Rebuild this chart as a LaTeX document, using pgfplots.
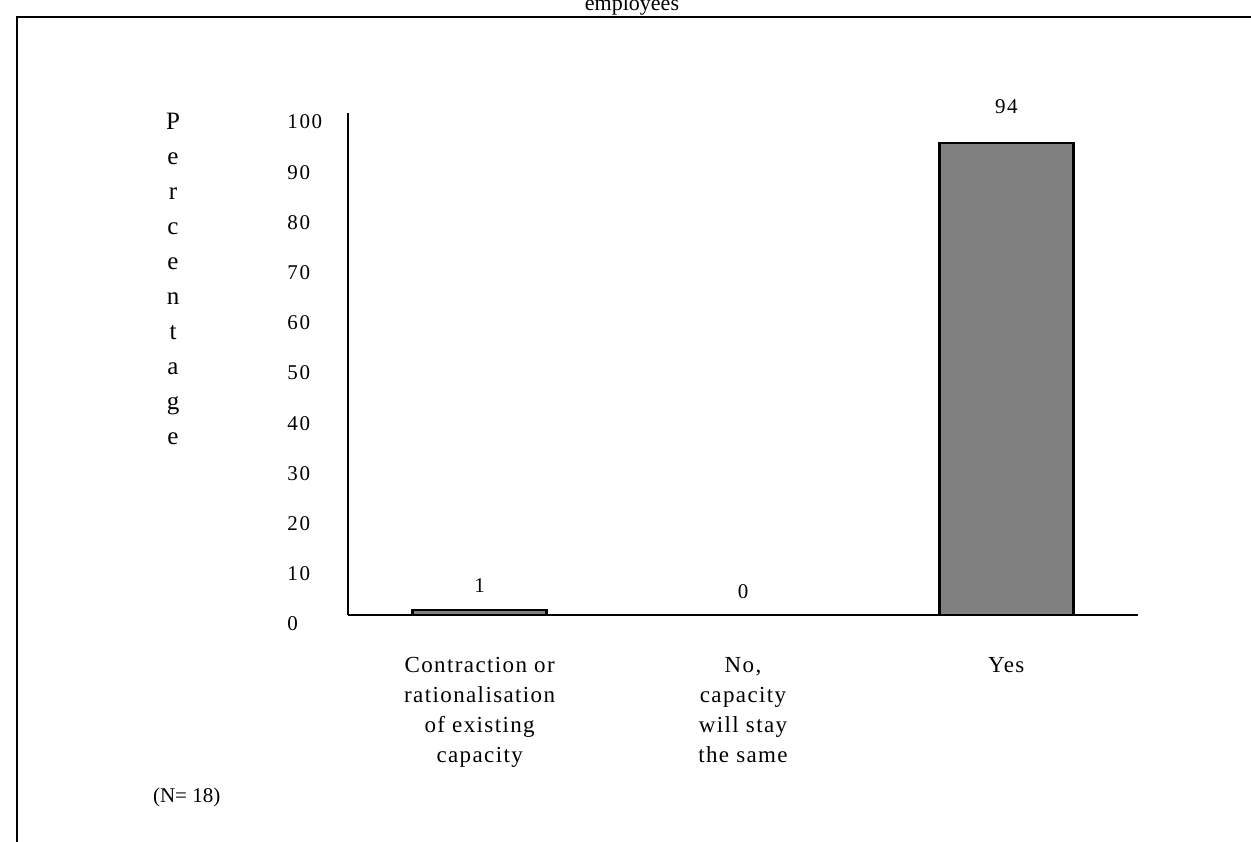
\documentclass[border=0pt]{standalone}
\usepackage{fontspec}
\setmainfont{Liberation Serif}
\newfontfamily\spaced[LetterSpace=8]{Liberation Serif}
\newfontfamily\catfont[LetterSpace=6]{Liberation Serif}
\usepackage{pgfplots}
\pgfplotsset{compat=1.18}
\usepackage{pgfplotstable}

% share of firms by planned change in capacity
% off = vertical offset (pt) of the value label above the bar top
\pgfplotstableread{
x y off lab
0 1 12 1
1 0 11.5 0
2 94 18 94
}\capacitydata

\begin{document}
\begin{tikzpicture}[x=1pt,y=1pt]
\path[use as bounding box] (0,0) rectangle (625.5,420.5);
% page frame
\draw[line width=1.2pt] (8.5,-5) -- (8.5,412) -- (640,412);
\node[font=\fontsize{11}{13}\selectfont, anchor=base] at (316,415) {employees};
\begin{axis}[
  at={(174pt,113pt)}, anchor=south west,
  scale only axis, width=395pt, height=251pt,
  xmin=-0.5, xmax=2.5, ymin=0, ymax=100,
  axis x line=bottom, axis y line=left,
  axis line style={-, line width=1.2pt},
  major tick length=0pt,
  xtick={0,1,2},
  xticklabels={{Contraction or\\rationalisation\\of existing\\capacity}, {No,\\capacity\\will stay\\the same}, Yes},
  xticklabel style={align=center, font=\catfont\fontsize{11.5}{15}\selectfont, yshift=-17.5pt},
  ytick={0,10,...,100},
  yticklabel style={anchor=west, xshift=-30.5pt, yshift=-4.5pt, inner sep=0pt, font=\spaced\fontsize{10.5}{12}\selectfont},
  /pgf/number format/assume math mode=true,
  ylabel={P\\e\\r\\c\\e\\n\\t\\a\\g\\e},
  ylabel style={rotate=-90, align=center, anchor=north, at={(axis description cs:-0.2215,1.013)}, font=\fontsize{12.5}{17.5}\selectfont},
  clip=false,
]
\addplot[ybar, bar width=67pt, fill=gray, draw=black, line width=1.3pt,
  point meta=explicit symbolic, nodes near coords,
  visualization depends on={\thisrow{off}\as\laboff},
  every node near coord/.append style={anchor=center, yshift=\laboff pt, font=\spaced\fontsize{10.5}{12}\selectfont}]
  table[x=x, y=y, meta=lab]{\capacitydata};
\end{axis}
\node[anchor=west, font=\fontsize{10.5}{12}\selectfont] at (73,22) {(N= 18)};
\end{tikzpicture}
\end{document}
